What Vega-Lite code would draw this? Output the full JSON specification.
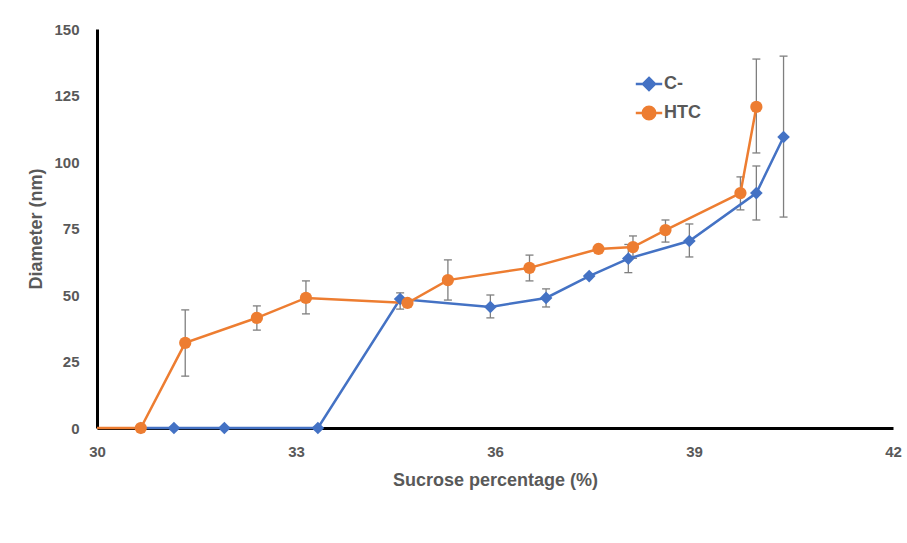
{
  "$schema": "https://vega.github.io/schema/vega-lite/v6.json",
  "width": 796,
  "height": 399,
  "autosize": {"type": "none"},
  "padding": {"left": 97, "top": 29, "right": 14, "bottom": 115},
  "background": "white",
  "config": {
    "view": {"stroke": null},
    "font": "Liberation Sans",
    "axis": {
      "grid": false,
      "ticks": false,
      "labelFlush": false,
      "domainColor": "#000000",
      "domainWidth": 3,
      "labelFont": "Liberation Sans",
      "labelFontSize": 15,
      "labelFontWeight": "bold",
      "labelColor": "#595959",
      "titleFont": "Liberation Sans",
      "titleFontSize": 18,
      "titleFontWeight": "bold",
      "titleColor": "#595959"
    }
  },
  "data": {
    "values": [
      {"series": "C-", "x": 30.66, "y": 0},
      {"series": "C-", "x": 31.16, "y": 0},
      {"series": "C-", "x": 31.92, "y": 0},
      {"series": "C-", "x": 33.33, "y": 0},
      {"series": "C-", "x": 34.57, "y": 48.5, "lo": 44.7, "hi": 50.8},
      {"series": "C-", "x": 35.93, "y": 45.5, "lo": 41.4, "hi": 50.0},
      {"series": "C-", "x": 36.77, "y": 48.9, "lo": 45.5, "hi": 52.3},
      {"series": "C-", "x": 37.42, "y": 57.1},
      {"series": "C-", "x": 38.01, "y": 63.7, "lo": 58.4, "hi": 69.0},
      {"series": "C-", "x": 38.93, "y": 70.3, "lo": 64.3, "hi": 76.7},
      {"series": "C-", "x": 39.94, "y": 88.3, "lo": 78.2, "hi": 98.5},
      {"series": "C-", "x": 40.35, "y": 109.4, "lo": 79.3, "hi": 139.8},
      {"series": "HTC", "x": 30.0, "y": 0},
      {"series": "HTC", "x": 30.66, "y": 0},
      {"series": "HTC", "x": 31.33, "y": 32.0, "lo": 19.5, "hi": 44.4},
      {"series": "HTC", "x": 32.41, "y": 41.4, "lo": 36.8, "hi": 45.9},
      {"series": "HTC", "x": 33.15, "y": 48.9, "lo": 42.9, "hi": 55.3},
      {"series": "HTC", "x": 34.68, "y": 47.0},
      {"series": "HTC", "x": 35.29, "y": 55.6, "lo": 48.1, "hi": 63.2},
      {"series": "HTC", "x": 36.52, "y": 60.2, "lo": 55.3, "hi": 65.0},
      {"series": "HTC", "x": 37.56, "y": 67.3},
      {"series": "HTC", "x": 38.08, "y": 68.0, "lo": 63.8, "hi": 72.2},
      {"series": "HTC", "x": 38.57, "y": 74.4, "lo": 69.9, "hi": 78.2},
      {"series": "HTC", "x": 39.70, "y": 88.3, "lo": 82.0, "hi": 94.4},
      {"series": "HTC", "x": 39.94, "y": 120.7, "lo": 103.4, "hi": 138.7}
    ]
  },
  "encoding": {
    "x": {
      "field": "x",
      "type": "quantitative",
      "scale": {"domain": [30, 42], "nice": false, "zero": false},
      "axis": {"values": [30, 33, 36, 39, 42], "labelPadding": 16, "titlePadding": 12, "title": "Sucrose percentage (%)"}
    }
  },
  "layer": [
    {
      "transform": [{"filter": "isValid(datum.hi)"}],
      "mark": {"type": "rule", "color": "#7f7f7f", "strokeWidth": 1.3},
      "encoding": {
        "y": {"field": "lo", "type": "quantitative"},
        "y2": {"field": "hi"}
      }
    },
    {
      "transform": [{"filter": "isValid(datum.hi)"}],
      "mark": {"type": "tick", "orient": "horizontal", "color": "#7f7f7f", "size": 8, "thickness": 1.3, "opacity": 1},
      "encoding": {"y": {"field": "hi", "type": "quantitative"}}
    },
    {
      "transform": [{"filter": "isValid(datum.hi)"}],
      "mark": {"type": "tick", "orient": "horizontal", "color": "#7f7f7f", "size": 8, "thickness": 1.3, "opacity": 1},
      "encoding": {"y": {"field": "lo", "type": "quantitative"}}
    },
    {
      "mark": {"type": "line", "strokeWidth": 2.5},
      "encoding": {
        "y": {
          "field": "y",
          "type": "quantitative",
          "scale": {"domain": [0, 150], "nice": false},
          "axis": {"values": [0, 25, 50, 75, 100, 125, 150], "labelPadding": 18, "titlePadding": 8, "title": "Diameter (nm)"}
        },
        "color": {
          "field": "series",
          "type": "nominal",
          "scale": {"range": ["#4472C4", "#ED7D31"]},
          "legend": null
        }
      }
    },
    {
      "transform": [{"filter": "datum.series == 'C-'"}],
      "mark": {"type": "point", "shape": "diamond", "filled": true, "opacity": 1, "size": 160},
      "encoding": {
        "y": {"field": "y", "type": "quantitative"},
        "color": {"field": "series", "type": "nominal", "legend": null}
      }
    },
    {
      "transform": [{"filter": "datum.series == 'HTC' && datum.x > 30"}],
      "mark": {"type": "point", "shape": "circle", "filled": true, "opacity": 1, "size": 150},
      "encoding": {
        "y": {"field": "y", "type": "quantitative"},
        "color": {"field": "series", "type": "nominal", "legend": null}
      }
    },
    {
      "mark": {"type": "point", "opacity": 0, "filled": true},
      "encoding": {
        "y": {"field": "y", "type": "quantitative"},
        "fill": {
          "field": "series",
          "type": "nominal",
          "scale": {"domain": ["C-", "HTC"], "range": ["#4472C4", "#ED7D31"]}
        },
        "stroke": {
          "field": "series",
          "type": "nominal",
          "scale": {"domain": ["C-", "HTC"], "range": ["#4472C4", "#ED7D31"]}
        },
        "shape": {
          "field": "series",
          "type": "nominal",
          "scale": {
            "domain": ["C-", "HTC"],
            "range": [
              "M-2.2,0L2.2,0M0,-1L1,0L0,1L-1,0Z",
              "M-2.2,0L2.2,0M-1.05,0A1.05,1.05,0,1,0,1.05,0A1.05,1.05,0,1,0,-1.05,0Z"
            ]
          },
          "legend": {
            "title": null,
            "orient": "none",
            "legendX": 543,
            "legendY": 46,
            "padding": 0,
            "symbolSize": 144,
            "symbolOpacity": 1,
            "symbolStrokeWidth": 2.5,
            "labelOffset": 6,
            "rowPadding": 6,
            "labelFont": "Liberation Sans",
            "labelFontSize": 18,
            "labelFontWeight": "bold",
            "labelColor": "#595959"
          }
        }
      }
    }
  ]
}
